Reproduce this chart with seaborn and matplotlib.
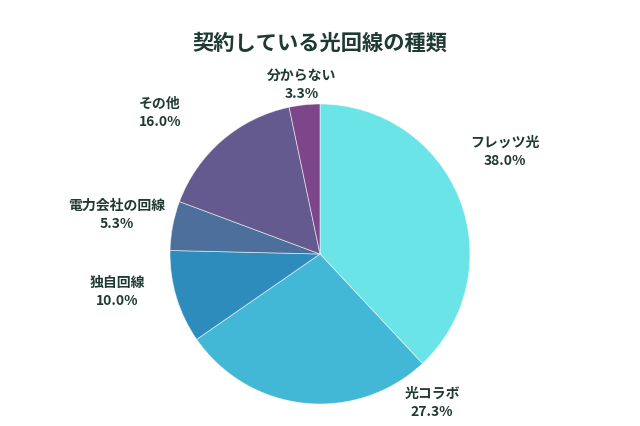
import matplotlib
matplotlib.use("Agg")
import matplotlib.pyplot as plt
import seaborn as sns

sns.set_theme(style="white")
plt.rcParams["font.family"] = ["Noto Sans CJK JP", "DejaVu Sans"]

# データ
labels = ["フレッツ光", "光コラボ", "独自回線", "電力会社の回線", "その他", "分からない"]
values = [38.0, 27.3, 10.0, 5.3, 16.0, 3.3]
colors = ["#6be4e8", "#43b7d6", "#2e8cbc", "#4c6f9b", "#645a90", "#7d468a"]

# ラベルの位置 (ピクセル, 左上原点)
label_pos = [(505, 152), (432, 403), (117, 292), (117, 215), (160, 113), (302, 85)]

text_color = "#1f3a33"
W, H = 640, 426

fig = plt.figure(figsize=(W / 100, H / 100), dpi=100)
fig.patch.set_facecolor("white")

# 円の中心 (320, 254), 半径 150
cx, cy, r = 320, 254, 150
ax = fig.add_axes([(cx - r) / W, (H - cy - r) / H, 2 * r / W, 2 * r / H])
ax.pie(values, colors=colors, startangle=90, counterclock=False, radius=1,
       wedgeprops=dict(edgecolor=(1, 1, 1, 0.6), linewidth=0.6))
ax.set_xlim(-1, 1)
ax.set_ylim(-1, 1)
ax.set_aspect("equal")
ax.axis("off")

for lab, val, (px, py) in zip(labels, values, label_pos):
    fig.text(px / W, 1 - py / H, f"{lab}\n{val:.1f}%", ha="center", va="center",
             fontsize=10, fontweight="bold", color=text_color, linespacing=1.45)

fig.text(0.5, 1 - 43 / H, "契約している光回線の種類", ha="center", va="center",
         fontsize=15.3, fontweight="bold", color=text_color)

fig.savefig("out.png", dpi=100)
